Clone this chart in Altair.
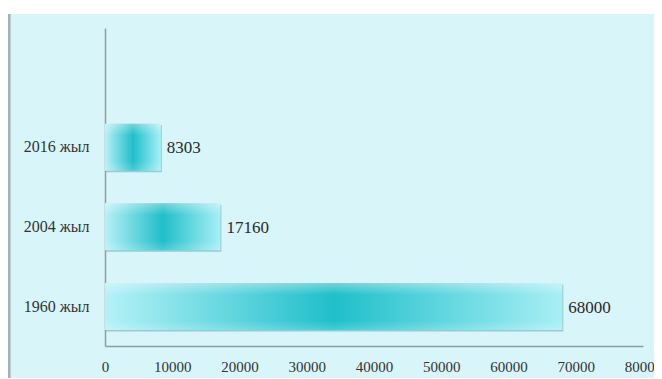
import altair as alt
import pandas as pd

categories = ["2016 жыл", "2004 жыл", "1960 жыл"]
values = [8303, 17160, 68000]
y_domain = [" "] + categories
x_ticks = [0, 10000, 20000, 30000, 40000, 50000, 60000, 70000, 80000]

df = pd.DataFrame({"year": categories, "value": values})

FONT = "Liberation Serif"

x_enc = alt.X(
    "value:Q",
    scale=alt.Scale(domain=[0, 80000], nice=False),
    axis=alt.Axis(
        values=x_ticks, title=None, grid=False, ticks=False, labelPadding=13,
        labelFont=FONT, labelFontSize=15, labelColor="#333333", format="d",
        domainColor="#8c9ea2", domainWidth=1.5, labelFlush=False,
    ),
)
y_enc = alt.Y(
    "year:N",
    scale=alt.Scale(domain=y_domain, paddingInner=0.41, paddingOuter=0.2),
    axis=alt.Axis(
        title=None, ticks=False, labelPadding=16, labelFont=FONT,
        labelFontSize=16, labelColor="#333333",
        domainColor="#8c9ea2", domainWidth=1.5,
    ),
)

shadow = alt.Chart(df).mark_bar(
    color="#7fa9ad", opacity=0.6, yOffset=1.5, xOffset=1
).encode(x=x_enc, y=y_enc)

base = alt.Chart(df).mark_bar(
    color=alt.Gradient(
        gradient="linear", x1=0, x2=1, y1=0, y2=0,
        stops=[
            alt.GradientStop(offset=0, color="#b4f2f7"),
            alt.GradientStop(offset=0.5, color="#1fbfca"),
            alt.GradientStop(offset=1, color="#a8eff5"),
        ],
    )
).encode(x=x_enc, y=y_enc)

overlay = alt.Chart(df).mark_bar(
    color=alt.Gradient(
        gradient="linear", x1=0, x2=0, y1=0, y2=1,
        stops=[
            alt.GradientStop(offset=0, color="rgba(255,255,255,0.35)"),
            alt.GradientStop(offset=0.25, color="rgba(255,255,255,0.0)"),
            alt.GradientStop(offset=0.8, color="rgba(255,255,255,0.0)"),
            alt.GradientStop(offset=1, color="rgba(255,255,255,0.2)"),
        ],
    )
).encode(x=x_enc, y=y_enc)

labels = alt.Chart(df).mark_text(
    align="left", baseline="middle", dx=6, dy=1, font=FONT, fontSize=17,
    color="#2a2a2a",
).encode(x=x_enc, y=y_enc, text=alt.Text("value:Q", format="d"))

frame_line = alt.Chart(df).mark_rule(color="#9fb3b8", strokeWidth=2.5).encode(
    x=alt.value(-96), y=alt.value(-14), y2=alt.value(360)
)

top_strip = alt.Chart(df).mark_rect(color="white").encode(
    x=alt.value(-100), x2=alt.value(560), y=alt.value(-22), y2=alt.value(-14)
)

chart = alt.layer(top_strip, frame_line, shadow, base, overlay, labels).properties(
    width=538, height=318,
    autosize=alt.AutoSizeParams(type="none"),
    padding={"left": 97, "top": 20, "right": 11, "bottom": 32},
    background="#d8f5f9",
).configure_view(stroke=None)

chart.save("out.html", embed_options={"renderer": "svg", "actions": False})
